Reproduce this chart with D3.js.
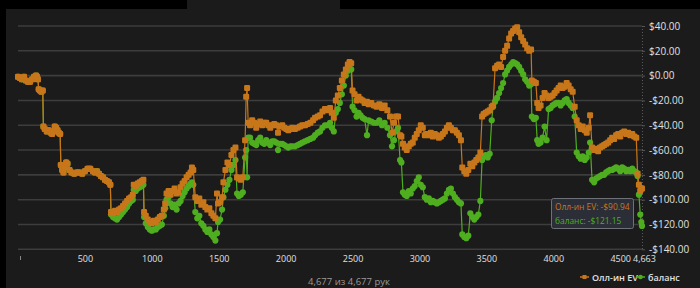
<!DOCTYPE html>
<html><head><meta charset="utf-8">
<script src="https://cdn.jsdelivr.net/npm/d3@7"></script>
<style>
html,body{margin:0;padding:0;background:#000;}
svg{display:block;}
text{font-family:"Open Sans","Noto Sans",sans-serif;}
</style></head><body>
<svg id="c" width="700" height="288"></svg>
<script>
const hands = [0,15,30,45,60,75,90,105,120,135,142,149,155,164,175,185,
190,200,215,230,245,255,265,275,285,295,305,315,
320,330,340,350,360,370,385,400,420,440,460,480,500,520,540,560,575,590,605,620,635,650,665,680,690,
695,710,725,740,755,770,785,800,815,830,845,858,865,880,895,910,925,937,
942,955,970,985,1000,1015,1030,1045,1060,1075,1090,1100,1110,1125,1140,1155,1170,1185,1200,1215,1230,1245,1260,1275,1290,1300,1310,
1325,1340,1355,1370,1385,1400,1415,1430,1445,1460,1475,1487,1495,1510,1525,1535,1550,1565,1580,1595,1610,1625,
1637,1650,1665,1680,1697,1705,1712,1720,1734,1750,1765,1780,1795,1810,1825,1840,1855,1870,1885,1900,1915,1930,1943,1958,1975,1990,2005,2020,2035,2050,2070,2090,2108,2125,2145,2165,2185,2205,2220,2240,2257,2275,2294,2310,2332,2345,2360,
2375,2390,2405,2420,2435,2450,2465,2478,2490,
2500,2515,2530,2545,2560,2575,2590,2608,2620,2640,2660,2680,2700,2720,2740,2760,2780,2795,2810,2825,2840,2855,2865,
2877,2890,2905,2920,2935,2950,2965,2980,2995,3010,3025,3040,3055,3070,3085,3100,3115,3130,3145,3160,3175,3190,3205,3220,3235,3250,3265,3280,3295,3310,
3320,3335,3350,3365,3380,3395,3410,3425,3440,3455,3468,3480,3495,3510,3525,3540,3550,3565,3580,3595,3610,3625,3640,3655,3670,3685,3700,3715,3730,3745,3760,3775,3790,3805,3820,3834,
3840,3855,3870,3880,3890,3905,3920,3935,3950,3965,3980,3995,4010,4025,4040,4055,4070,4085,4100,4115,4130,4145,
4160,4175,4190,4205,4220,4235,4250,4265,4275,4290,4305,4320,4335,4350,4365,4380,4395,4410,4425,4440,4455,4470,4485,4500,4515,4530,4545,4560,4575,4590,4605,4620,4630,4640,4650,4658,4663];

const allInEV = [-1,-2,-3,-1,-4,-5,-5,-3,-1,0,-1,-3,-11,-12,-13,-12,
-41,-43,-45,-44,-46,-47,-45,-41,-42,-44,-46,-47,
-72,-76,-78,-74,-70,-71,-76,-78,-79,-78,-78,-79,-77,-75,-75,-77,-78,-77,-79,-81,-82,-84,-85,-86,-88,
-110,-111,-109,-110,-108,-107,-105,-103,-101,-99,-98,-96,-88,-89,-87,-86,-85,-84,
-110,-113,-116,-118,-119,-117,-118,-116,-114,-113,-108,-103,-95,-93,-96,-93,-91,-95,-94,-90,-87,-85,-82,-80,-78,-74,-76,
-98,-101,-99,-104,-102,-106,-108,-107,-111,-113,-115,-95,-103,-102,-98,-86,-76,-70,-72,-64,-60,-58,
-82,-83,-84,-82,-52,-17,-10,-38,-40,-36,-38,-42,-39,-37,-40,-38,-38,-40,-42,-40,-39,-40,-46,-41,-40,-42,-43,-44,-43,-42,-43,-42,-41,-40,-40,-39,-38,-36,-34,-33,-32,-29,-27,-28,-26,-30,-34,
-20,-16,-10,-4,1,5,9,11,10,
-12,-15,-20,-17,-19,-20,-22,-21,-23,-22,-24,-25,-23,-26,-24,-28,-33,-46,-38,-33,-33,-48,-49,
-55,-58,-60,-57,-55,-54,-50,-47,-44,-40,-42,-48,-47,-48,-46,-49,-47,-48,-50,-49,-47,-45,-42,-40,-42,-44,-44,-46,-48,-52,
-74,-77,-79,-76,-71,-73,-70,-68,-66,-62,-33,-31,-30,-29,-28,-25,-24,6,8,9,7,15,20,24,30,34,36,38,39,35,31,28,25,22,20,21,
-4,-5,-6,-22,-26,-24,-18,-14,-16,-18,-17,-16,-14,-12,-10,-8,-10,-9,-6,-8,-11,-13,
-25,-36,-40,-43,-41,-44,-46,-42,-32,-58,-60,-59,-61,-58,-57,-56,-55,-54,-52,-50,-51,-48,-47,-49,-46,-45,-47,-46,-48,-47,-49,-50,-79,-88,-93,-91,-90.94];

const balance = [-1,-2,-3,-1,-4,-5,-5,-3,-1,0,-1,-3,-11,-12,-13,-12,
-41,-43,-45,-44,-46,-47,-45,-41,-42,-44,-46,-47,
-72,-76,-78,-74,-70,-71,-76,-78,-79,-78,-78,-79,-77,-75,-75,-77,-78,-77,-79,-81,-82,-84,-85,-86,-88,
-112,-114,-115,-116,-114,-112,-110,-108,-106,-103,-101,-100,-92,-93,-91,-90,-89,-88,
-114,-119,-122,-124,-125,-124,-124,-122,-121,-120,-113,-107,-100,-98,-103,-106,-104,-108,-103,-101,-97,-94,-91,-89,-87,-86,-88,
-110,-115,-113,-119,-121,-124,-126,-124,-128,-130,-133,-127,-118,-116,-108,-98,-92,-88,-84,-76,-72,-68,
-95,-97,-96,-94,-66,-60,-82,-50,-50,-54,-55,-56,-52,-50,-54,-55,-52,-54,-56,-53,-53,-54,-60,-55,-55,-56,-57,-58,-57,-57,-57,-56,-55,-54,-53,-52,-51,-50,-48,-46,-45,-42,-40,-40,-38,-42,-45,
-30,-27,-22,-15,-8,0,4,6,5,
-25,-28,-33,-30,-32,-34,-35,-48,-36,-37,-38,-38,-36,-40,-38,-42,-48,-57,-52,-45,-42,-68,-70,
-94,-96,-97,-93,-95,-91,-89,-85,-82,-88,-90,-98,-100,-99,-102,-101,-102,-103,-102,-101,-100,-99,-95,-92,-91,-95,-98,-100,-102,-103,
-128,-130,-131,-129,-111,-114,-116,-114,-112,-101,-68,-65,-64,-66,-63,-36,-25,-21,-18,-14,-10,-6,1,4,7,9,11,10,9,7,4,1,-3,-5,-8,-7,
-33,-35,-34,-52,-55,-54,-50,-41,-52,-27,-26,-24,-23,-22,-22,-24,-22,-20,-19,-22,-24,-26,
-33,-62,-65,-67,-65,-68,-66,-62,-54,-84,-86,-83,-82,-81,-80,-80,-78,-77,-76,-76,-75,-74,-75,-77,-74,-75,-77,-76,-77,-75,-77,-78,-81,-96,-112,-118,-121.15];

const yTicks = [40,20,0,-20,-40,-60,-80,-100,-120,-140];
const xTicks = [500,1000,1500,2000,2500,3000,3500,4000,4500];
const totalHands = 4663;
const totalLabel = "4,677 из 4,677 рук";
const seriesNames = ["Олл-ин EV","баланс"];
const tooltipTexts = ["Олл-ин EV: -$90.94","баланс: -$121.15"];

const ORANGE = "#c8761a", GREEN = "#4fae1f";
const svg = d3.select("#c");

svg.append("rect").attr("x",6).attr("y",9).attr("width",694).attr("height",279).attr("fill","#1b1b1b");
svg.append("rect").attr("x",187).attr("y",0).attr("width",153).attr("height",10).attr("fill","#1b1b1b");

const x = d3.scaleLinear().domain([0,totalHands]).range([18,642]);
const y = d3.scaleLinear().domain([-140,40]).range([249.3,26]);

svg.append("g").selectAll("line").data(yTicks).join("line")
  .attr("x1",18).attr("x2",642).attr("y1",d=>y(d)).attr("y2",d=>y(d))
  .attr("stroke","#3d3d3d").attr("stroke-width",1.6);

svg.append("line").attr("x1",642.5).attr("x2",642.5).attr("y1",y(40)).attr("y2",y(-140))
  .attr("stroke","#5a5a5a").attr("stroke-dasharray","1,2");

const fmt = v => (v<0?"-$":"$") + Math.abs(v).toFixed(2);
const yAxis = d3.axisRight(y).tickValues(yTicks).tickFormat(fmt).tickSize(3).tickPadding(4);
const ya = svg.append("g").attr("transform","translate(642,0)").call(yAxis);
ya.select(".domain").remove();
ya.selectAll("line").attr("stroke","#555");
ya.selectAll("text").attr("fill","#e0e0e0").attr("font-size","10px");

const xAxis = d3.axisBottom(x).tickValues(xTicks).tickFormat(d=>d).tickSize(0).tickPadding(6);
const xa = svg.append("g").attr("transform","translate(0,250)").call(xAxis);
xa.select(".domain").remove();
xa.selectAll("text").attr("fill","#e0e0e0").attr("font-size","9px");
svg.append("line").attr("x1",20.5).attr("x2",20.5).attr("y1",256).attr("y2",260).attr("stroke","#888");
svg.append("text").attr("x",x(totalHands)-9).attr("y",262).attr("text-anchor","start")
  .attr("fill","#e0e0e0").attr("font-size","9px").text("4,663");

const pts = hands.map((h,i)=>({h, ev:allInEV[i], bal:balance[i]}));

const plot = svg.append("g");
function drawSeries(key,color,shape){
  const line = d3.line().x(d=>x(d.h)).y(d=>y(d[key]));
  plot.append("path").datum(pts).attr("d",line).attr("fill","none").attr("stroke",color).attr("stroke-width",1.2);
  if(shape==="circle"){
    plot.append("g").selectAll("circle").data(pts).join("circle")
      .attr("cx",d=>x(d.h)).attr("cy",d=>y(d[key])).attr("r",3.1).attr("fill",color);
  } else {
    plot.append("g").selectAll("rect").data(pts).join("rect")
      .attr("x",d=>x(d.h)-3).attr("y",d=>y(d[key])-3).attr("width",6).attr("height",6)
      .attr("rx",1.2).attr("fill",color);
  }
}
drawSeries("bal",GREEN,"circle");
drawSeries("ev",ORANGE,"square");

const tt = svg.append("g");
tt.append("rect").attr("x",551.5).attr("y",198.5).attr("width",82).attr("height",30).attr("rx",2)
  .attr("fill","#2b2e36").attr("stroke","#6e7178");
tt.append("text").attr("x",555).attr("y",210).attr("font-size","8.4px").attr("fill",ORANGE).text(tooltipTexts[0]);
tt.append("text").attr("x",555).attr("y",224).attr("font-size","8.4px").attr("fill",GREEN).text(tooltipTexts[1]);

svg.append("text").attr("x",349).attr("y",285).attr("text-anchor","middle").attr("font-size","9.5px")
  .attr("fill","#9a9a9a").text(totalLabel);

const lg = svg.append("g");
lg.append("line").attr("x1",580).attr("x2",589).attr("y1",277).attr("y2",277).attr("stroke",ORANGE).attr("stroke-width",1.5);
lg.append("rect").attr("x",582.5).attr("y",275).attr("width",4).attr("height",4).attr("fill",ORANGE);
lg.append("text").attr("x",592).attr("y",280.5).attr("font-size","9px").attr("font-weight","600").attr("fill","#e0e0e0").text(seriesNames[0]);
lg.append("line").attr("x1",636).attr("x2",645).attr("y1",277).attr("y2",277).attr("stroke",GREEN).attr("stroke-width",1.5);
lg.append("circle").attr("cx",640.5).attr("cy",277).attr("r",2.3).attr("fill",GREEN);
lg.append("text").attr("x",648).attr("y",280.5).attr("font-size","9px").attr("font-weight","600").attr("fill","#e0e0e0").text(seriesNames[1]);
</script>
</body></html>
